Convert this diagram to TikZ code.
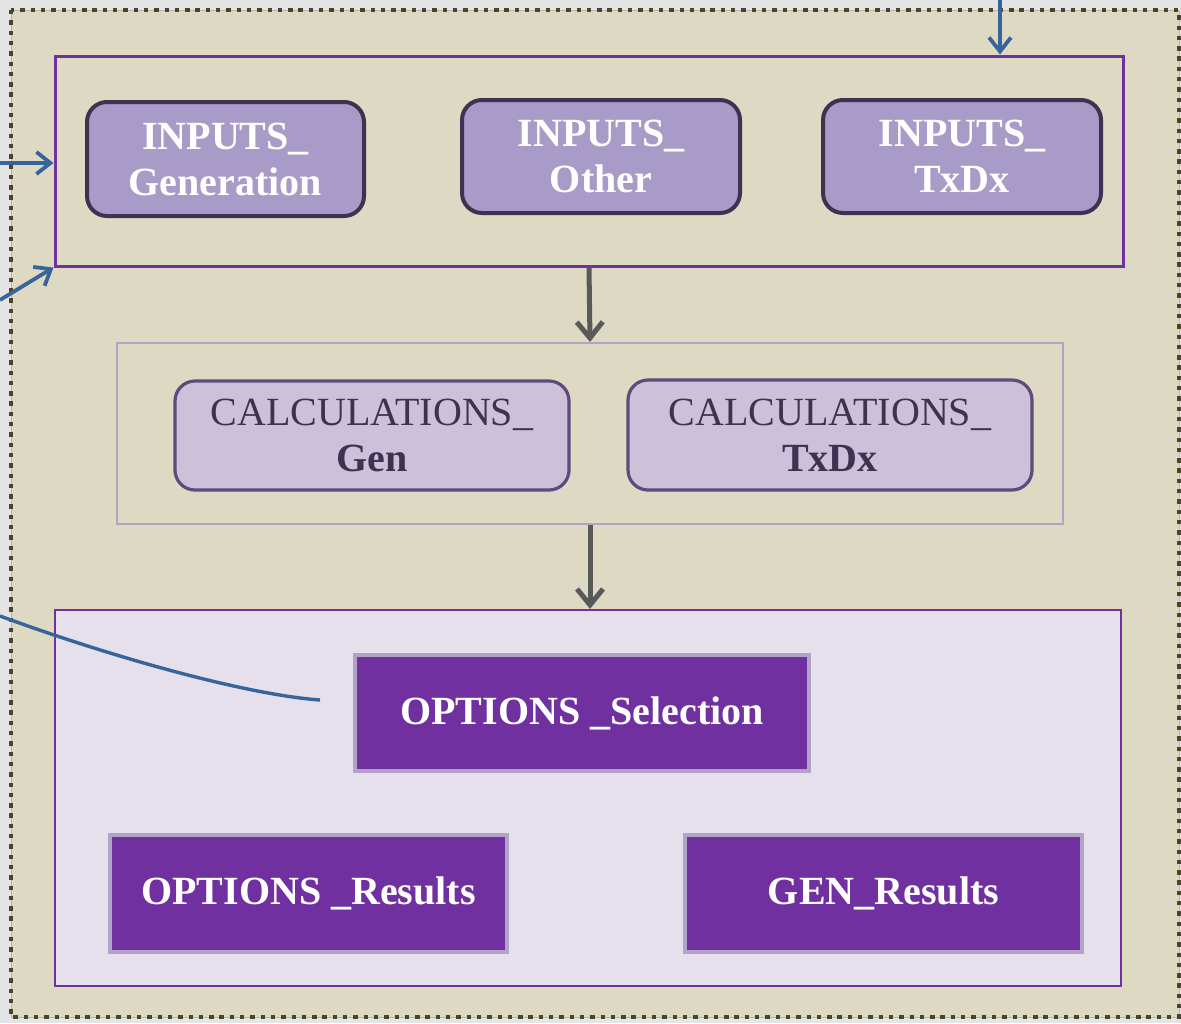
\documentclass[tikz,border=0pt]{standalone}
\usepackage{fontspec}
\setmainfont{Liberation Serif}
\usetikzlibrary{arrows.meta}

\definecolor{pagegray}{HTML}{E4E4E4}
\definecolor{sand}{HTML}{DDD9C3}
\definecolor{olive}{HTML}{4A452A}
\definecolor{grape}{HTML}{7030A0}
\definecolor{lilac}{HTML}{A99BC7}
\definecolor{plum}{HTML}{403152}
\definecolor{mauve}{HTML}{CCC0DA}
\definecolor{mauveline}{HTML}{604A7B}
\definecolor{softlilac}{HTML}{B3A2C7}
\definecolor{mist}{HTML}{E5E0EC}
\definecolor{steel}{HTML}{37649A}
\definecolor{slate}{HTML}{595959}
\definecolor{edgegray}{HTML}{B8B5A8}

\tikzset{
  frame/.style={draw=olive, line width=2.2pt, dash pattern=on 2.2pt off 2.95pt},
  groupbox/.style={rectangle, inner sep=0pt},
  inputbox/.style={rectangle, rounded corners=10pt, draw=plum, fill=lilac, line width=2pt,
    text=white, align=center, font=\fontsize{20}{23}\selectfont\bfseries},
  calcbox/.style={rectangle, rounded corners=10pt, draw=mauveline, fill=mauve, line width=1.6pt,
    text=plum, align=center, font=\fontsize{20}{23}\selectfont},
  optbox/.style={rectangle, draw=softlilac, fill=grape, line width=2.25pt,
    text=white, align=center, font=\fontsize{20}{23}\selectfont\bfseries},
  flow/.style={draw=slate, line width=2.5pt, -{Straight Barb[length=8pt,width=13pt,line width=2.5pt]}},
  feed/.style={draw=steel, line width=1.9pt, -{Straight Barb[length=7pt,width=11pt,line width=1.9pt]}},
  feedline/.style={draw=steel, line width=1.7pt},
}

\begin{document}
\begin{tikzpicture}[x=0.5pt, y=-0.5pt]
\useasboundingbox (0,0) rectangle (1181,1023);
\fill[pagegray] (0,0) rectangle (1181,1023);
\filldraw[fill=sand, draw=edgegray, line width=0.4pt] (11,10) rectangle (1179,1017);
\draw[frame] (11,10) rectangle (1179,1017);

% group containers
\node[groupbox, draw=grape, line width=1.5pt, minimum width=534pt, minimum height=105pt] (inputs) at (589,161) {};
\node[groupbox, draw=softlilac, line width=1.1pt, minimum width=473pt, minimum height=90.5pt] (calc) at (590,433.5) {};
\node[groupbox, draw=grape, fill=mist, line width=1.1pt, minimum width=533pt, minimum height=188pt] (options) at (588,798) {};

% input sheets
\node[inputbox, minimum width=138.5pt, minimum height=57pt] (ingen) at (225.5,159) {INPUTS\_\\Generation};
\node[inputbox, minimum width=139pt, minimum height=56.5pt] (inother) at (601,156.5) {INPUTS\_\\Other};
\node[inputbox, minimum width=139pt, minimum height=56.5pt] (intxdx) at (962,156.5) {INPUTS\_\\TxDx};

% calculation sheets
\node[calcbox, minimum width=197pt, minimum height=54.5pt] (calcgen) at (372,435.5) {CALCULATIONS\_\\\textbf{Gen}};
\node[calcbox, minimum width=202pt, minimum height=55pt] (calctxdx) at (830,435) {CALCULATIONS\_\\\textbf{TxDx}};

% option sheets
\node[optbox, minimum width=227pt, minimum height=58pt] (optsel) at (582,713) {OPTIONS \_Selection};
\node[optbox, minimum width=198.5pt, minimum height=58.5pt] (optres) at (308.5,893.5) {OPTIONS \_Results};
\node[optbox, minimum width=198.5pt, minimum height=58.5pt] (genres) at (883.5,893.5) {GEN\_Results};

% main flow
\draw[flow] (inputs.south) -- (calc.north);
\draw[flow] (calc.south) -- (calc.south |- options.north);

% links coming from outside
\coordinate (srcA) at (0,163);
\coordinate (srcB) at (0,300);
\coordinate (srcC) at (1000,0);
\coordinate (srcD) at (0,616);
\coordinate (curveend) at (320,700);
\draw[feed] (srcA) -- (srcA -| inputs.west);
\draw[feed] (srcB) -- (inputs.south west);
\draw[feed] (srcC) -- (srcC |- inputs.north);
\draw[feedline] (srcD) .. controls (120,660) and (250,695) .. (curveend);
\end{tikzpicture}
\end{document}
